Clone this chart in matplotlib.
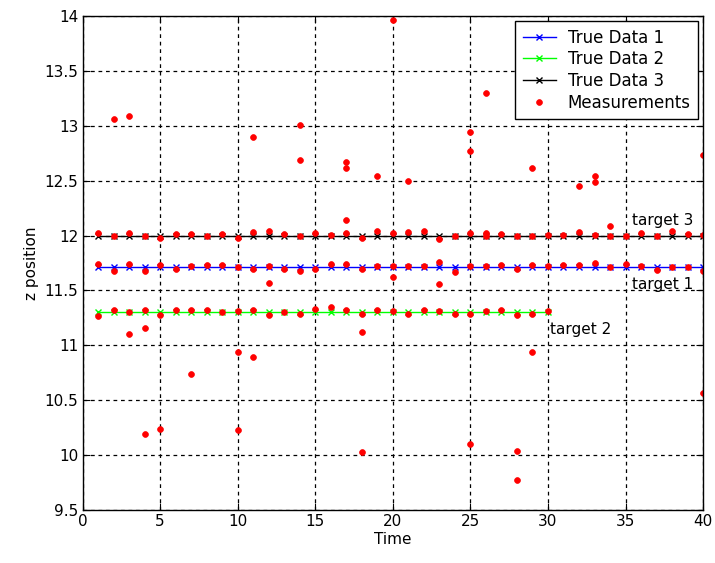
import numpy as np
import matplotlib
matplotlib.use('Agg')
import matplotlib.pyplot as plt

plt.rcParams['font.family'] = ['DejaVu Sans']

# True target positions
true_z1 = 11.71
true_z2 = 11.30
true_z3 = 12.00
time1 = np.arange(1, 41)
time2 = np.arange(1, 31)
time3 = np.arange(1, 41)

meas_z1 = [11.74, 11.68, 11.745, 11.68, 11.735, 11.70, 11.72, 11.73, 11.735, 11.715,
           11.70, 11.72, 11.70, 11.68, 11.70, 11.74, 11.74, 11.70, 11.72, 11.72,
           11.72, 11.72, 11.76, 11.67, 11.72, 11.72, 11.735, 11.70, 11.735, 11.72,
           11.73, 11.735, 11.75, 11.715, 11.745, 11.72, 11.69, 11.71, 11.715, 11.68]
meas_z2 = [11.27, 11.32, 11.30, 11.32, 11.28, 11.32, 11.32, 11.32, 11.30, 11.31,
           11.32, 11.28, 11.30, 11.29, 11.33, 11.35, 11.32, 11.29, 11.32, 11.31,
           11.29, 11.32, 11.31, 11.29, 11.29, 11.31, 11.32, 11.28, 11.29, 11.31]
meas_z3 = [12.02, 11.995, 12.02, 12.00, 11.98, 12.01, 12.01, 12.00, 12.01, 11.98,
           12.03, 12.045, 12.01, 12.00, 12.02, 12.005, 12.02, 11.98, 12.04, 12.02,
           12.03, 12.04, 11.97, 12.00, 12.02, 12.02, 12.01, 12.00, 12.00, 12.005,
           12.005, 12.03, 12.005, 11.995, 11.995, 12.02, 11.995, 12.04, 12.01, 12.005]

# Clutter / false measurements
clutter_t = [2, 3, 11, 14, 14, 17, 17, 17, 19, 20, 21, 25, 25, 26, 26, 29, 32, 33, 33, 34, 40,
             3, 4, 4, 5, 7, 10, 10, 11, 12, 18, 18, 20, 23, 25, 28, 28, 29, 40]
clutter_z = [13.06, 13.09, 12.90, 13.01, 12.69, 12.67, 12.62, 12.14, 12.54, 13.96, 12.50,
             12.94, 12.77, 13.30, 12.00, 12.62, 12.45, 12.54, 12.49, 12.09, 12.73,
             11.10, 11.16, 10.19, 10.24, 10.74, 10.94, 10.23, 10.89, 11.57, 11.12, 10.03,
             11.62, 11.56, 10.10, 10.04, 9.77, 10.94, 10.57]

meas_t = np.concatenate([time1, time2, time3, clutter_t])
meas_z = np.concatenate([meas_z1, meas_z2, meas_z3, clutter_z])

fig = plt.figure(figsize=(7.15, 5.63), dpi=100)
ax = fig.add_axes([0.1154, 0.0941, 0.868, 0.8774])

ax.plot(time1, np.full(len(time1), true_z1), color='blue', marker='x', ms=5, lw=1.0,
        label='True Data 1')
ax.plot(time2, np.full(len(time2), true_z2), color='lime', marker='x', ms=5, lw=1.0,
        label='True Data 2')
ax.plot(time3, np.full(len(time3), true_z3), color='black', marker='x', ms=5, lw=1.0,
        label='True Data 3')
ax.plot(meas_t, meas_z, linestyle='none', marker='o', ms=4.2, mew=0.5, color='red',
        mec='red', label='Measurements')

ax.text(35.4, 12.14, 'target 3', fontsize=11, va='center')
ax.text(35.4, 11.55, 'target 1', fontsize=11, va='center')
ax.text(30.1, 11.14, 'target 2', fontsize=11, va='center')

ax.set_xlim(0, 40)
ax.set_ylim(9.5, 14)
ax.set_xticks(np.arange(0, 41, 5))
yt = np.arange(9.5, 14.01, 0.5)
ax.set_yticks(yt)
ax.set_yticklabels([f'{v:g}' for v in yt])
ax.tick_params(direction='in', top=True, right=True, labelsize=11, length=5, pad=3)
ax.grid(True, color='black', linestyle=(0, (3, 3)), linewidth=0.9)
for s in ax.spines.values():
    s.set_linewidth(1.0)

ax.set_xlabel('Time', fontsize=11, labelpad=2)
ax.set_ylabel('z position', fontsize=11)

leg = ax.legend(loc='upper right', fontsize=12, fancybox=False, framealpha=1,
                edgecolor='black', handlelength=2.0, handletextpad=0.7,
                borderaxespad=0.3, borderpad=0.45, labelspacing=0.22)
leg.get_frame().set_linewidth(1.0)

fig.savefig('out.png', dpi=100)
